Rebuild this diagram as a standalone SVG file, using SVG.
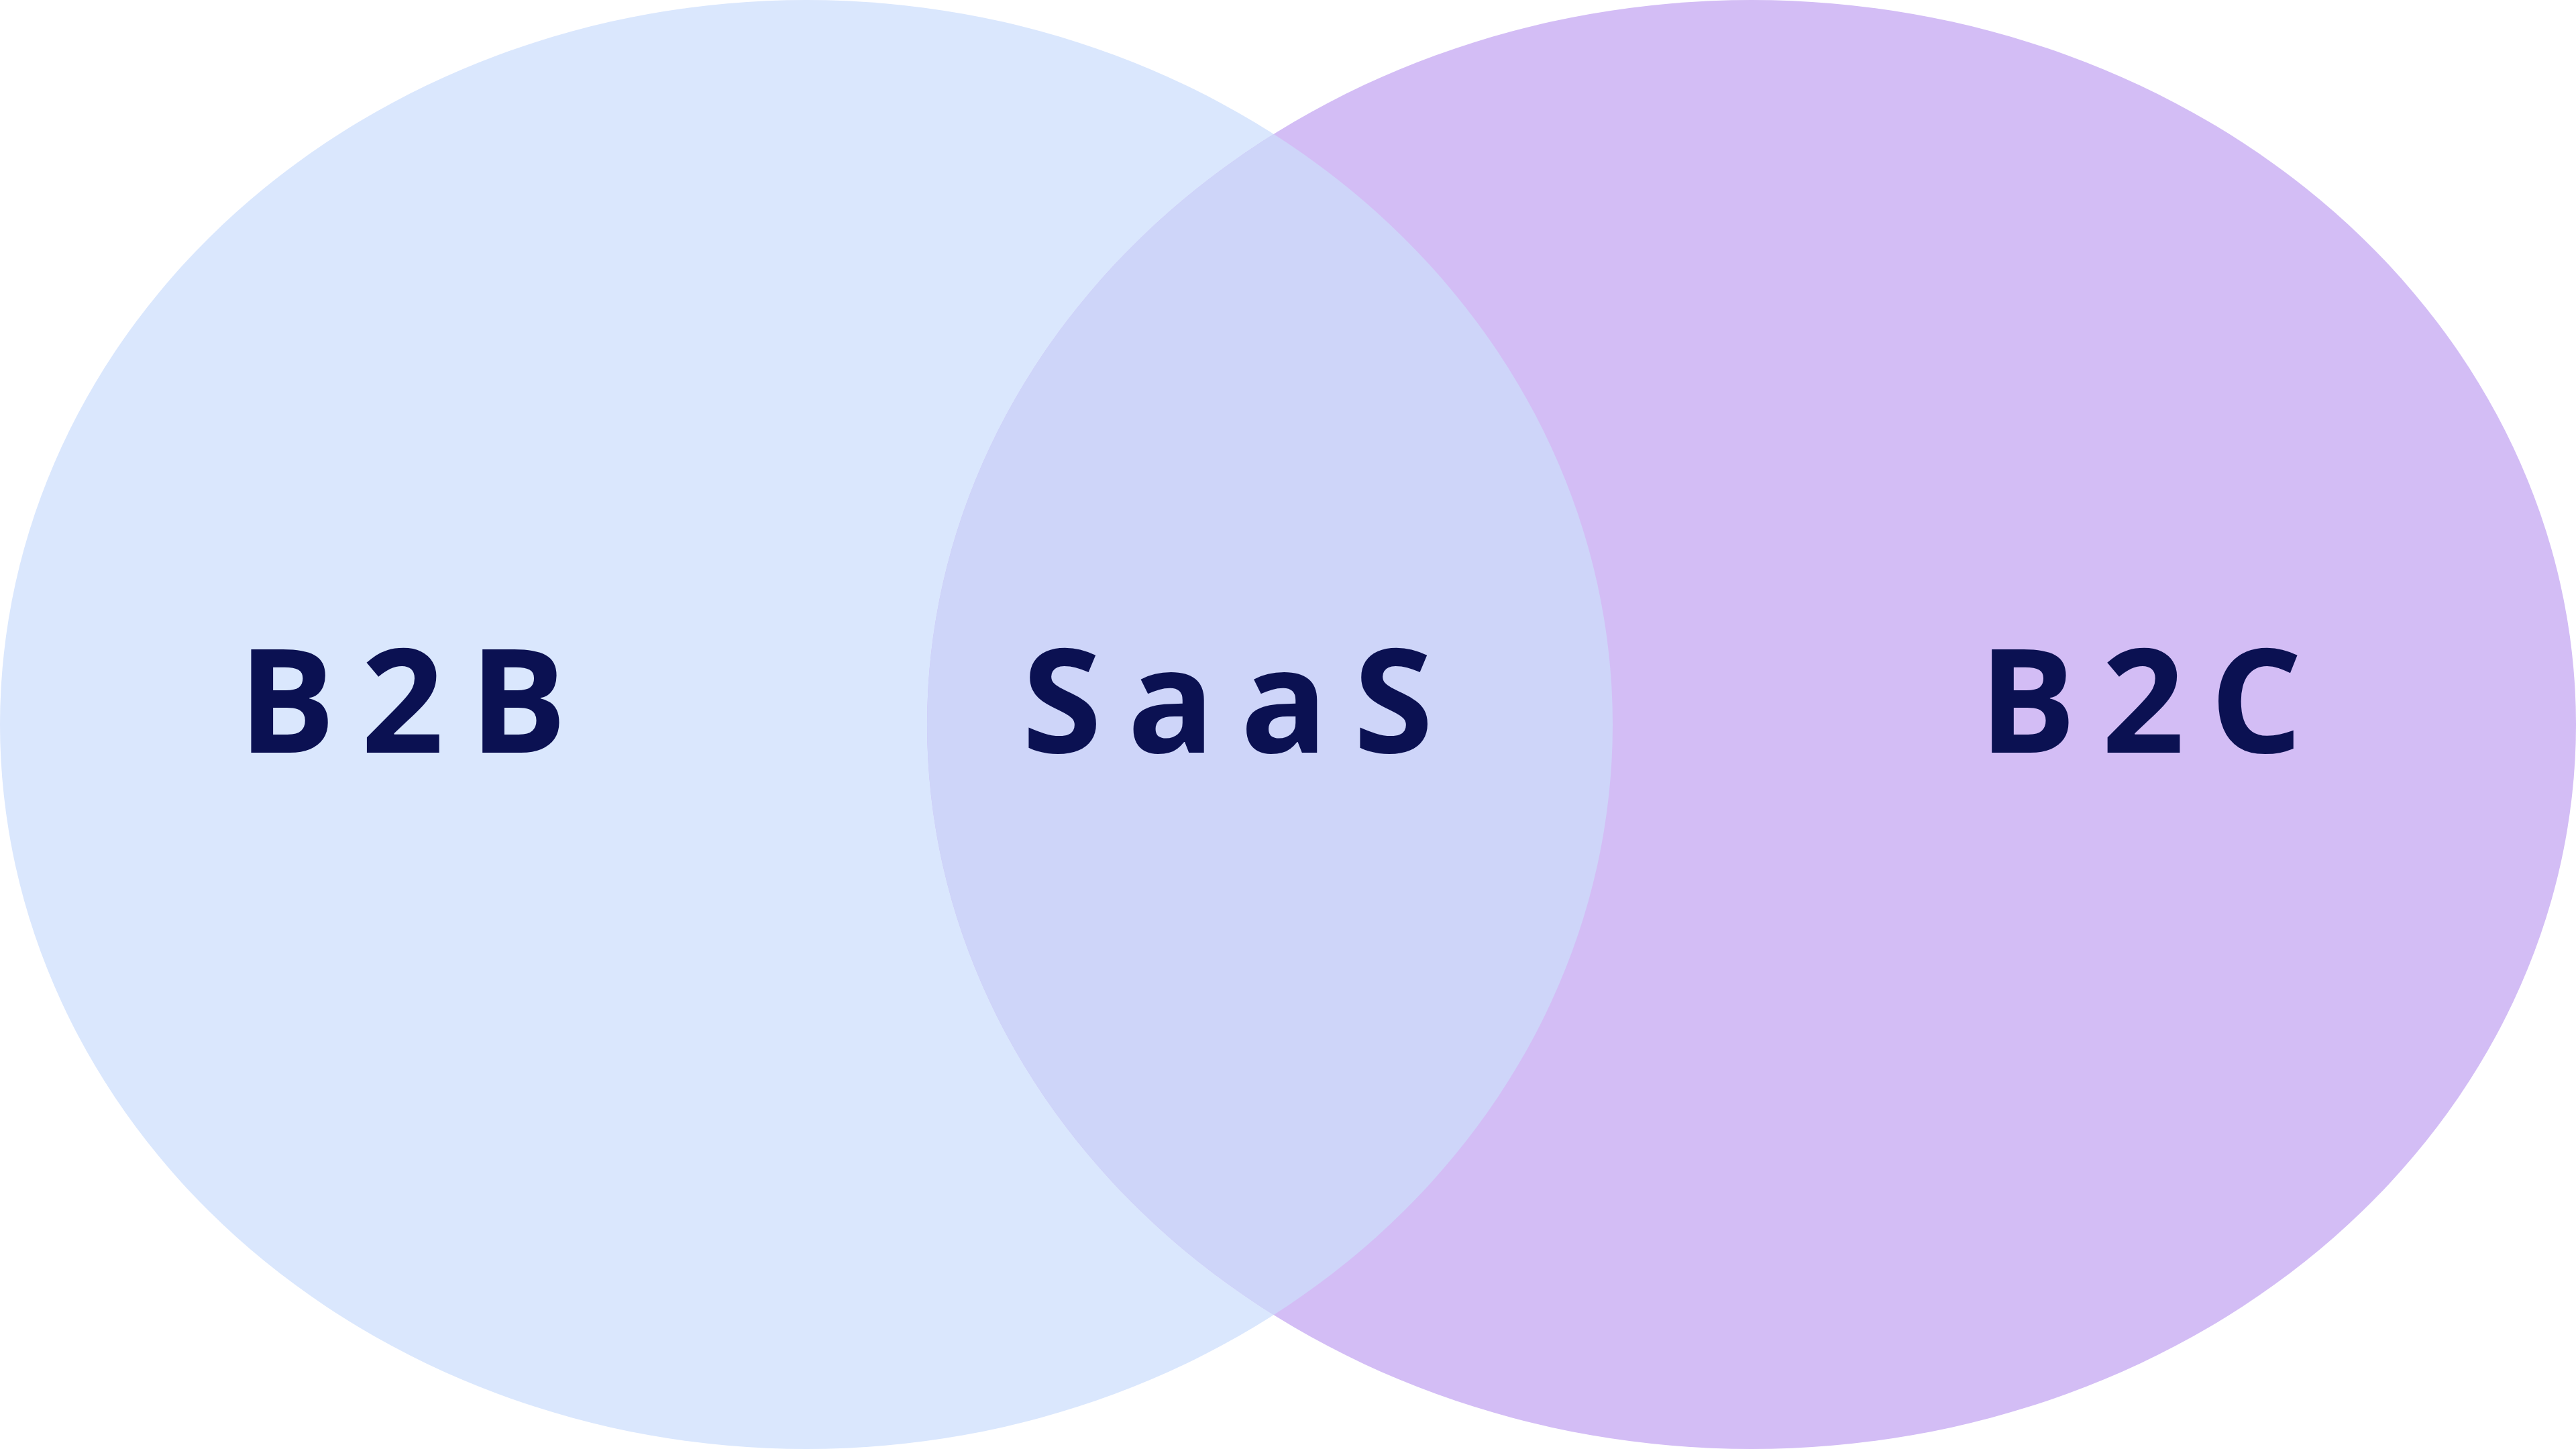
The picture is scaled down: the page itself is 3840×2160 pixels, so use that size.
<svg xmlns="http://www.w3.org/2000/svg" width="3840" height="2160" viewBox="0 0 3840 2160">
<style>
.lbl{font-family:"Open Sans","Liberation Sans",sans-serif;font-weight:700;font-size:216px;fill:#0b1152;text-anchor:middle;letter-spacing:38px}
</style>
<defs>
<clipPath id="cr"><ellipse cx="2611" cy="1080" rx="1229" ry="1080"/></clipPath>
</defs>
<rect width="3840" height="2160" fill="#ffffff"/>
<g id="b2b-set"><ellipse cx="1202" cy="1080" rx="1202" ry="1080" fill="#dae7fd"/></g>
<g id="b2c-set"><ellipse cx="2611" cy="1080" rx="1229" ry="1080" fill="#d3bdf5"/></g>
<g id="overlap"><ellipse cx="1202" cy="1080" rx="1202" ry="1080" fill="#ced5f9" clip-path="url(#cr)"/></g>
<g id="connectors"/>
<g id="labels">
<text class="lbl" x="619" y="1122">B2B</text>
<text class="lbl" x="1849" y="1122">SaaS</text>
<text class="lbl" x="3210" y="1122">B2C</text>
</g>
</svg>
